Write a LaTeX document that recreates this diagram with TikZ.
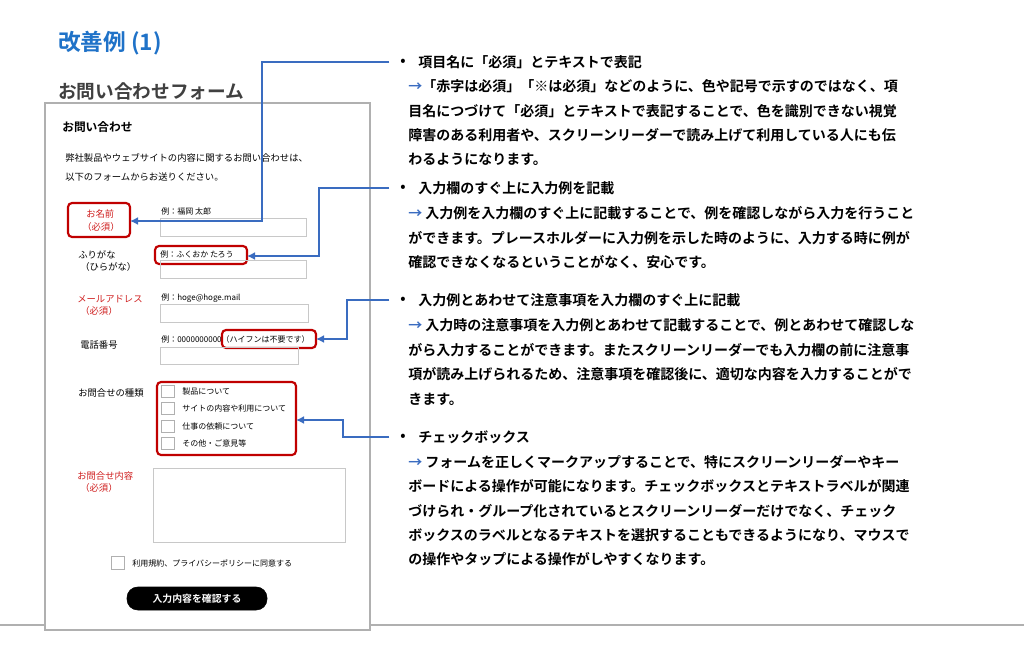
\documentclass[tikz,border=0pt]{standalone}
\usepackage{fontspec}
\setmainfont{Noto Sans CJK JP}
\newfontfamily\jpbold{Noto Sans CJK JP Bold}
\usetikzlibrary{arrows.meta}
\definecolor{linkblue}{HTML}{3A6CC0}
\definecolor{titleblue}{HTML}{1F72C8}
\definecolor{markred}{HTML}{C00000}
\definecolor{labelred}{HTML}{D02020}
\definecolor{framegray}{HTML}{B0B0B0}
\tikzset{
  formtxt/.style={anchor=west, inner sep=0, font=\fontsize{7}{7.5}\selectfont},
  reqtxt/.style={formtxt, text=labelred},
  inputbox/.style={draw=framegray!70, line width=0.6pt},
  chkbox/.style={draw=framegray, line width=0.6pt},
  markbox/.style={draw=markred, line width=1.6pt, rounded corners=3pt},
  notetxt/.style={anchor=west, inner sep=0, font=\jpbold\fontsize{10.5}{11}\selectfont},
  pointer/.style={linkblue, line width=1.5pt, -{Latex[length=6pt,width=6pt]}},
}
\begin{document}
\begin{tikzpicture}[x=0.75pt, y=-0.75pt]
\useasboundingbox (0,0) rectangle (1024,650);
% titles
\node[anchor=west, inner sep=0, text=titleblue, font=\jpbold\fontsize{17}{19}\selectfont] (title) at (58,43) {改善例 (1)};
\node[anchor=west, inner sep=0, text=black!75, font=\jpbold\fontsize{14}{15}\selectfont] (subtitle) at (58,91) {お問い合わせフォーム};
\draw[framegray, line width=0.8pt] (0,625) -- (1024,625);
\draw[framegray, line width=1pt, fill=white] (45,103) rectangle (370,630);
% form
\node[formtxt, font=\jpbold\fontsize{8.8}{9}\selectfont] (formhead) at (62,127) {お問い合わせ};
\node[formtxt] (intro1) at (65,158) {弊社製品やウェブサイトの内容に関するお問い合わせは、};
\node[formtxt] (intro2) at (65,177) {以下のフォームからお送りください。};
% name
\node[reqtxt] (name1) at (86,214) {お名前};
\node[reqtxt] (name2) at (82,227) {（必須）};
\draw[markbox] (68,203) rectangle (130,237);
\coordinate (namemark) at (130,221);
\node[formtxt, font=\fontsize{6}{6.5}\selectfont] (nameex) at (161,211) {例：福岡 太郎};
\draw[inputbox] (160,218) rectangle (306,236);
% kana
\node[formtxt] (kana1) at (78,255) {ふりがな};
\node[formtxt] (kana2) at (80,267) {（ひらがな）};
\node[formtxt, font=\fontsize{6}{6.5}\selectfont] (kanaex) at (160,254) {例：ふくおか たろう};
\draw[markbox] (155,246) rectangle (247,264);
\coordinate (kanamark) at (247,256);
\draw[inputbox] (160,260) rectangle (306,278);
% mail
\node[reqtxt] (mail1) at (77,299) {メールアドレス};
\node[reqtxt] (mail2) at (80,311) {（必須）};
\node[formtxt, font=\fontsize{6}{6.5}\selectfont] (mailex) at (161,298) {例：hoge@hoge.mail};
\draw[inputbox] (160,304) rectangle (308,322);
% tel
\node[formtxt] (tel) at (80,345) {電話番号};
\node[formtxt, font=\fontsize{6}{6.5}\selectfont] (telex) at (161,339) {例：0000000000（ハイフンは不要です）};
\draw[markbox] (222,330) rectangle (316,348);
\coordinate (telmark) at (316,339);
\draw[inputbox] (160,347) rectangle (298,364);
% kind
\node[formtxt] (kind) at (78,393) {お問合せの種類};
\foreach \y/\lbl [count=\i] in {391/製品について, 408/サイトの内容や利用について, 426/仕事の依頼について, 443/その他・ご意見等}{
  \draw[chkbox] (161,\y-6) rectangle (174,\y+6);
  \node[formtxt, font=\fontsize{6}{6.5}\selectfont] (kind\i) at (182,\y) {\lbl};
}
\draw[markbox] (157,382) rectangle (296,455);
\coordinate (kindmark) at (296,420);
% body
\node[reqtxt] (body1) at (77,476) {お問合せ内容};
\node[reqtxt] (body2) at (80,488) {（必須）};
\draw[inputbox] (153,468) rectangle (345,542);
\draw[chkbox] (111,556) rectangle (124,569);
\node[formtxt, font=\fontsize{6}{6.5}\selectfont] (agree) at (132,563) {利用規約、プライバシーポリシーに同意する};
\draw[fill=black, rounded corners=8pt] (127,587) rectangle (267,610);
\node[inner sep=0, text=white, font=\jpbold\fontsize{7.4}{8}\selectfont] (submit) at (197,598.5) {入力内容を確認する};
% notes
\foreach \y/\lbl [count=\i] in {62/項目名に「必須」とテキストで表記, 188/入力欄のすぐ上に入力例を記載, 300/入力例とあわせて注意事項を入力欄のすぐ上に記載, 437/チェックボックス}{
  \node[notetxt] (bullet\i) at (400,\y) {•};
  \node[notetxt] (head\i) at (418,\y) {\lbl};
}
\node[notetxt] (n1a) at (408,86) {\textcolor{linkblue}{→}「赤字は必須」「※は必須」などのように、色や記号で示すのではなく、項};
\node[notetxt] (n1b) at (408,111) {目名につづけて「必須」とテキストで表記することで、色を識別できない視覚};
\node[notetxt] (n1c) at (408,135) {障害のある利用者や、スクリーンリーダーで読み上げて利用している人にも伝};
\node[notetxt] (n1d) at (408,159) {わるようになります。};
\node[notetxt] (n2a) at (408,213) {\textcolor{linkblue}{→} 入力例を入力欄のすぐ上に記載することで、例を確認しながら入力を行うこと};
\node[notetxt] (n2b) at (408,238) {ができます。プレースホルダーに入力例を示した時のように、入力する時に例が};
\node[notetxt] (n2c) at (408,262) {確認できなくなるということがなく、安心です。};
\node[notetxt] (n3a) at (408,325) {\textcolor{linkblue}{→} 入力時の注意事項を入力例とあわせて記載することで、例とあわせて確認しな};
\node[notetxt] (n3b) at (408,350) {がら入力することができます。またスクリーンリーダーでも入力欄の前に注意事};
\node[notetxt] (n3c) at (408,374) {項が読み上げられるため、注意事項を確認後に、適切な内容を入力することがで};
\node[notetxt] (n3d) at (408,399) {きます。};
\node[notetxt] (n4a) at (408,462) {\textcolor{linkblue}{→} フォームを正しくマークアップすることで、特にスクリーンリーダーやキー};
\node[notetxt] (n4b) at (408,486) {ボードによる操作が可能になります。チェックボックスとテキストラベルが関連};
\node[notetxt] (n4c) at (408,511) {づけられ・グループ化されているとスクリーンリーダーだけでなく、チェック};
\node[notetxt] (n4d) at (408,535) {ボックスのラベルとなるテキストを選択することもできるようになり、マウスで};
\node[notetxt] (n4e) at (408,559) {の操作やタップによる操作がしやすくなります。};
% pointers
\draw[pointer] ([xshift=-8pt]bullet1.west) -| (262,221) -- (namemark);
\draw[pointer] ([xshift=-8pt]bullet2.west) -| (319,256) -- (kanamark);
\draw[pointer] ([xshift=-8pt]bullet3.west) -| (347,339) -- (telmark);
\draw[pointer] ([xshift=-8pt]bullet4.west) -| (343,420) -- (kindmark);
\end{tikzpicture}
\end{document}
